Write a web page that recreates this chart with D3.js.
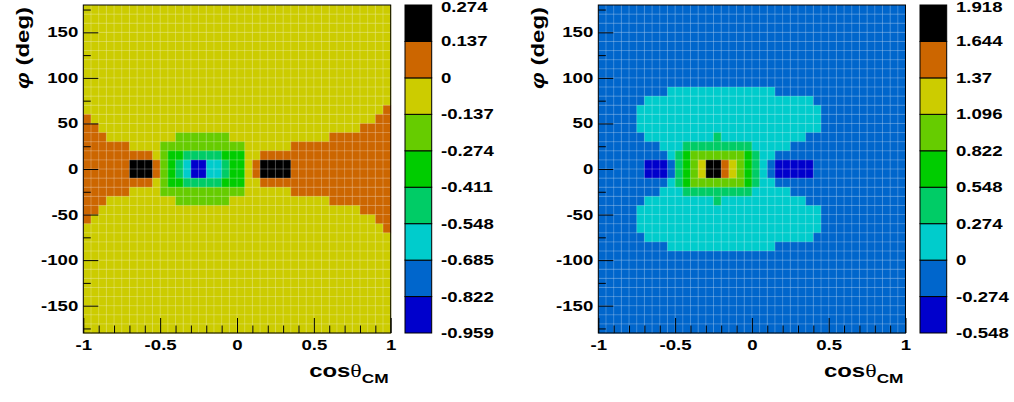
<!DOCTYPE html>
<html><head><meta charset="utf-8">
<script src="https://cdn.jsdelivr.net/npm/d3@7"></script>
<style>body{margin:0;background:#fff}svg{display:block}</style>
</head><body>
<svg id="c" width="1014" height="402"></svg>
<script>
// ---------------- data ----------------
const cosRange = [-1, 1];
const phiRange = [-180, 180];
const nCosBins = 40;
const nPhiBins = 36;
const xMajorTicks = [-1, -0.5, 0, 0.5, 1];
const xMinorTicks = [-0.9,-0.8,-0.7,-0.6,-0.4,-0.3,-0.2,-0.1,0.1,0.2,0.3,0.4,0.6,0.7,0.8,0.9];
const yMajorTicks = [-150, -100, -50, 0, 50, 100, 150];
const yMinorTicks = [-175, -125, -75, -25, 25, 75, 125, 175];
const zLevelsA = [-0.959, -0.822, -0.685, -0.548, -0.411, -0.274, -0.137, 0, 0.137, 0.274];
const zLevelsB = [-0.548, -0.274, 0, 0.274, 0.548, 0.822, 1.096, 1.37, 1.644, 1.918];
const palette = ["#0000cc","#0066cc","#00cccc","#00cc66","#00cc00","#66cc00","#cccc00","#cc6600","#000000"];
const xTitleMain = "cos", xTitleSym = "θ", xTitleSub = "CM";
const yTitleSym = "φ", yTitleRest = " (deg)";

// colour band index of every cell; rows from phi=+180 (top) to phi=-180, columns cos=-1..1
const bandsA = [
"6666666666 6666666666 6666666666 6666666666",
"6666666666 6666666666 6666666666 6666666666",
"6666666666 6666666666 6666666666 6666666666",
"6666666666 6666666666 6666666666 6666666666",
"6666666666 6666666666 6666666666 6666666666",
"6666666666 6666666666 6666666666 6666666666",
"6666666666 6666666666 6666666666 6666666666",
"6666666666 6666666666 6666666666 6666666666",
"6666666666 6666666666 6666666666 6666666666",
"6666666666 6666666666 6666666666 6666666666",
"6666666666 6666666666 6666666666 6666666666",
"6666666666 6666666666 6666666666 6666666667",
"7666666666 6666666666 6666666666 6666666677",
"7766666666 6666666666 6666666666 6666667777",
"7776666666 6655555556 6666666666 6677777777",
"7777776666 5555555555 5666666777 7777777777",
"7777777776 5443333344 4667777777 7777777777",
"7777778887 5432002234 4678888777 7777777777",
"7777778887 5432002234 4678888777 7777777777",
"7777777776 5443333344 4667777777 7777777777",
"7777776666 5555555555 5666666777 7777777777",
"7776666666 6655555556 6666666666 6677777777",
"7766666666 6666666666 6666666666 6666667777",
"7666666666 6666666666 6666666666 6666666677",
"6666666666 6666666666 6666666666 6666666667",
"6666666666 6666666666 6666666666 6666666666",
"6666666666 6666666666 6666666666 6666666666",
"6666666666 6666666666 6666666666 6666666666",
"6666666666 6666666666 6666666666 6666666666",
"6666666666 6666666666 6666666666 6666666666",
"6666666666 6666666666 6666666666 6666666666",
"6666666666 6666666666 6666666666 6666666666",
"6666666666 6666666666 6666666666 6666666666",
"6666666666 6666666666 6666666666 6666666666",
"6666666666 6666666666 6666666666 6666666666",
"6666666666 6666666666 6666666666 6666666666"
];
const bandsB = [
"1111111111 1111111111 1111111111 1111111111",
"1111111111 1111111111 1111111111 1111111111",
"1111111111 1111111111 1111111111 1111111111",
"1111111111 1111111111 1111111111 1111111111",
"1111111111 1111111111 1111111111 1111111111",
"1111111111 1111111111 1111111111 1111111111",
"1111111111 1111111111 1111111111 1111111111",
"1111111111 1111111111 1111111111 1111111111",
"1111111111 1111111111 1111111111 1111111111",
"1111111112 2222222222 2221111111 1111111111",
"1111112222 2222222222 2222222211 1111111111",
"1111122222 2222222222 2222222221 1111111111",
"1111122222 2222222222 2222222221 1111111111",
"1111122222 2222222222 2222222221 1111111111",
"1111112222 2222232222 2222222111 1111111111",
"1111111122 2333333333 2222211111 1111111111",
"1111111112 3455555554 3221111111 1111111111",
"1111110001 3456887654 3210000011 1111111111",
"1111110001 3456887654 3210000011 1111111111",
"1111111112 3455555554 3221111111 1111111111",
"1111111122 2333333333 2222211111 1111111111",
"1111112222 2222232222 2222222111 1111111111",
"1111122222 2222222222 2222222221 1111111111",
"1111122222 2222222222 2222222221 1111111111",
"1111122222 2222222222 2222222221 1111111111",
"1111112222 2222222222 2222222211 1111111111",
"1111111112 2222222222 2221111111 1111111111",
"1111111111 1111111111 1111111111 1111111111",
"1111111111 1111111111 1111111111 1111111111",
"1111111111 1111111111 1111111111 1111111111",
"1111111111 1111111111 1111111111 1111111111",
"1111111111 1111111111 1111111111 1111111111",
"1111111111 1111111111 1111111111 1111111111",
"1111111111 1111111111 1111111111 1111111111",
"1111111111 1111111111 1111111111 1111111111",
"1111111111 1111111111 1111111111 1111111111"
];

// ---------------- drawing ----------------
const svg = d3.select("#c");
const FONT = "'Liberation Sans', Arial, sans-serif";
const STRETCH = 1.33;

function toValues(bands, levels) {
  const cells = [];
  bands.forEach((row, j) => {
    row.replace(/ /g, "").split("").forEach((ch, i) => {
      const b = +ch;
      cells.push({i, j, v: (levels[b] + levels[b + 1]) / 2});
    });
  });
  return cells;
}

function panel(cfg) {
  const g = svg.append("g");
  const x = d3.scaleLinear().domain(cosRange).range([cfg.x0, cfg.x1]);
  const y = d3.scaleLinear().domain(phiRange).range([cfg.y1, cfg.y0]);
  const color = d3.scaleThreshold().domain(cfg.levels.slice(1, -1)).range(palette);
  const dCos = (cosRange[1] - cosRange[0]) / nCosBins;
  const dPhi = (phiRange[1] - phiRange[0]) / nPhiBins;
  const cells = toValues(cfg.bands, cfg.levels);

  g.append("g").selectAll("rect").data(cells).join("rect")
    .attr("x", d => x(cosRange[0] + d.i * dCos))
    .attr("y", d => y(phiRange[1] - d.j * dPhi))
    .attr("width", d => x(cosRange[0] + (d.i + 1) * dCos) - x(cosRange[0] + d.i * dCos) + 0.4)
    .attr("height", d => y(phiRange[1] - (d.j + 1) * dPhi) - y(phiRange[1] - d.j * dPhi) + 0.4)
    .attr("fill", d => color(d.v));

  // faint light seams between bins
  const seams = g.append("g").attr("stroke", "#fff").attr("stroke-opacity", 0.28).attr("stroke-width", 0.9);
  d3.range(1, nCosBins).forEach(i => {
    const xx = x(cosRange[0] + i * dCos);
    seams.append("line").attr("x1", xx).attr("x2", xx).attr("y1", cfg.y0).attr("y2", cfg.y1);
  });
  d3.range(1, nPhiBins).forEach(j => {
    const yy = y(phiRange[1] - j * dPhi);
    seams.append("line").attr("y1", yy).attr("y2", yy).attr("x1", cfg.x0).attr("x2", cfg.x1);
  });

  // frame
  g.append("rect").attr("x", cfg.x0).attr("y", cfg.y0)
    .attr("width", cfg.x1 - cfg.x0).attr("height", cfg.y1 - cfg.y0)
    .attr("fill", "none").attr("stroke", "#000").attr("stroke-width", 1);

  // x axis
  const xa = g.append("g").attr("transform", `translate(0,${cfg.y1})`)
    .call(d3.axisBottom(x).tickValues(xMajorTicks).tickSizeInner(-15).tickSizeOuter(0).tickPadding(7).tickFormat(d => String(d)));
  g.append("g").attr("transform", `translate(0,${cfg.y1})`)
    .call(d3.axisBottom(x).tickValues(xMinorTicks).tickSizeInner(-7.5).tickSizeOuter(0).tickFormat(""))
    .call(s => s.select(".domain").remove());
  xa.select(".domain").remove();
  xa.selectAll("text").attr("transform", `scale(${STRETCH},1)`);

  // y axis
  const ya = g.append("g").attr("transform", `translate(${cfg.x0},0)`)
    .call(d3.axisLeft(y).tickValues(yMajorTicks).tickSizeInner(-15).tickSizeOuter(0).tickPadding(5).tickFormat(d => String(d)));
  g.append("g").attr("transform", `translate(${cfg.x0},0)`)
    .call(d3.axisLeft(y).tickValues(yMinorTicks).tickSizeInner(-7.5).tickSizeOuter(0).tickFormat(""))
    .call(s => s.select(".domain").remove());
  ya.select(".domain").remove();
  ya.selectAll("text").attr("x", -5 / STRETCH).attr("transform", `scale(${STRETCH},1)`);

  g.selectAll(".tick line").attr("stroke", "#000").attr("stroke-width", 1);
  g.selectAll(".tick text").attr("font-family", FONT).attr("font-size", 14)
    .attr("font-weight", "bold").attr("fill", "#000");

  // palette (colour bar)
  const z = d3.scaleLinear().domain([cfg.levels[0], cfg.levels[cfg.levels.length - 1]]).range([cfg.y1, cfg.y0]);
  const bar = g.append("g");
  bar.selectAll("rect").data(d3.pairs(cfg.levels)).join("rect")
    .attr("x", cfg.cb0).attr("width", cfg.cb1 - cfg.cb0)
    .attr("y", d => z(d[1])).attr("height", d => z(d[0]) - z(d[1]))
    .attr("fill", d => color((d[0] + d[1]) / 2))
    .attr("stroke", "#000").attr("stroke-width", 1);
  const za = g.append("g").attr("transform", `translate(${cfg.cb1},0)`)
    .call(d3.axisRight(z).tickValues(cfg.levels).tickSize(0).tickPadding(9).tickFormat(d => String(d)));
  za.select(".domain").remove();
  za.selectAll("text").attr("x", 9.3 / STRETCH).attr("transform", `scale(${STRETCH},1)`)
    .attr("font-family", FONT).attr("font-size", 14).attr("font-weight", "bold").attr("fill", "#000")
    .attr("dy", (d, k, n) => k === n.length - 1 ? "0.45em" : "0.32em");

  // x title
  const xt = g.append("text").attr("transform", `translate(${cfg.x1 - 2},377) scale(${STRETCH},1)`)
    .attr("text-anchor", "end").attr("font-family", FONT).attr("fill", "#000");
  xt.append("tspan").attr("font-size", 18).attr("font-weight", "bold").text(xTitleMain);
  xt.append("tspan").attr("font-size", 18).attr("font-family", "'Liberation Serif', serif").text(xTitleSym);
  xt.append("tspan").attr("font-size", 13).attr("font-weight", "bold").attr("dy", 6).text(xTitleSub);

  // y title
  const yt = g.append("text").attr("transform", `translate(${cfg.x0 - 54},7) rotate(-90) scale(${STRETCH},1)`)
    .attr("text-anchor", "end").attr("font-family", FONT).attr("font-size", 18).attr("font-weight", "bold").attr("fill", "#000");
  yt.append("tspan").attr("font-style", "italic").text(yTitleSym);
  yt.append("tspan").text(yTitleRest);
}

panel({x0: 83.3, x1: 390.7, y0: 5, y1: 333, cb0: 405, cb1: 431.7, levels: zLevelsA, bands: bandsA});
panel({x0: 598.3, x1: 905.5, y0: 5, y1: 333, cb0: 920, cb1: 946.7, levels: zLevelsB, bands: bandsB});
</script>
</body></html>
